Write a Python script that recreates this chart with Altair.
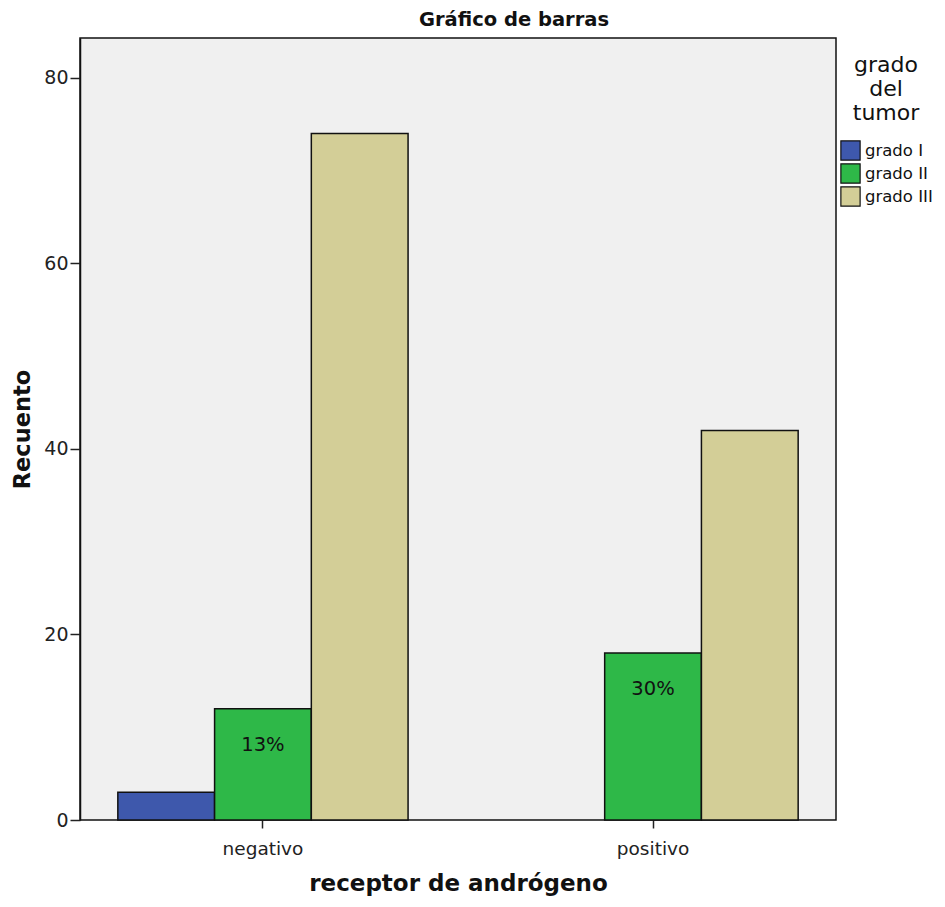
import altair as alt
import pandas as pd

receptor = ["negativo", "negativo", "negativo", "positivo", "positivo"]
grado = ["grado I", "grado II", "grado III", "grado II", "grado III"]
recuento = [3, 12, 74, 18, 42]
pct = ["", "13%", "", "30%", ""]

grados = ["grado I", "grado II", "grado III"]
colores = ["#3E58AC", "#2EB848", "#D3CE97"]

df = pd.DataFrame({"receptor": receptor, "grado": grado, "recuento": recuento, "pct": pct})

FONT = "DejaVu Sans"

x_enc = alt.X("receptor:N", title="receptor de andrógeno",
              scale=alt.Scale(domain=["negativo", "positivo"], paddingInner=0.256, paddingOuter=0.097),
              axis=alt.Axis(labelAngle=0, labelFontSize=18.5, labelColor="#222", labelFont=FONT,
                            titleFontSize=23, titleFont=FONT, titleFontWeight="bold", titleColor="#111",
                            titlePadding=15, tickSize=8, tickColor="#222", tickWidth=1.5,
                            domain=False, labelPadding=11))
xo_enc = alt.XOffset("grado:N", scale=alt.Scale(domain=grados, paddingInner=0, paddingOuter=0))

bars = alt.Chart(df).mark_bar(stroke="#111", strokeWidth=1.5).encode(
    x=x_enc,
    xOffset=xo_enc,
    y=alt.Y("recuento:Q", title="Recuento",
            scale=alt.Scale(domain=[0, 84.3], nice=False, zero=True),
            axis=alt.Axis(values=[0, 20, 40, 60, 80], grid=False, labelFontSize=19, labelColor="#222",
                          labelFont=FONT, titleFont=FONT, titleFontSize=22.5, titleFontWeight="bold",
                          titleColor="#111", titlePadding=9, tickSize=10, tickColor="#222", tickWidth=1.5,
                          domainColor="#111", domainWidth=1.5, labelPadding=2)),
    color=alt.Color("grado:N", scale=alt.Scale(domain=grados, range=colores),
                    legend=alt.Legend(title=["grado", "del", "tumor"], orient="none",
                                      legendX=760, legendY=17,
                                      titleFontSize=22, titleFont=FONT, titleFontWeight="normal",
                                      titleColor="#111", titleAlign="center", titleAnchor="middle",
                                      titleLineHeight=24, titlePadding=15,
                                      labelFontSize=16.5, labelFont=FONT, labelColor="#111",
                                      symbolType="square", symbolSize=370, symbolStrokeColor="#111",
                                      symbolStrokeWidth=1.2, symbolOpacity=1, rowPadding=-2.5,
                                      labelOffset=4)),
)

text = alt.Chart(df).transform_filter(alt.datum.pct != "").mark_text(
    fontSize=19.5, font=FONT, color="#111", baseline="middle", dy=36
).encode(
    x=x_enc,
    xOffset=xo_enc,
    y=alt.Y("recuento:Q"),
    text="pct:N",
)

chart = alt.layer(bars, text).properties(
    width=756, height=782,
    title=alt.TitleParams("Gráfico de barras", fontSize=19.5, font=FONT, fontWeight="bold",
                          color="#111", anchor="middle", dx=56, offset=8),
    autosize=alt.AutoSizeParams(type="none"),
    padding={"left": 72, "top": 30, "right": 100, "bottom": 79},
).configure_view(fill="#F0F0F0", stroke="#111", strokeWidth=1.5)

chart.save("out.html", embed_options={"renderer": "svg", "actions": False})
